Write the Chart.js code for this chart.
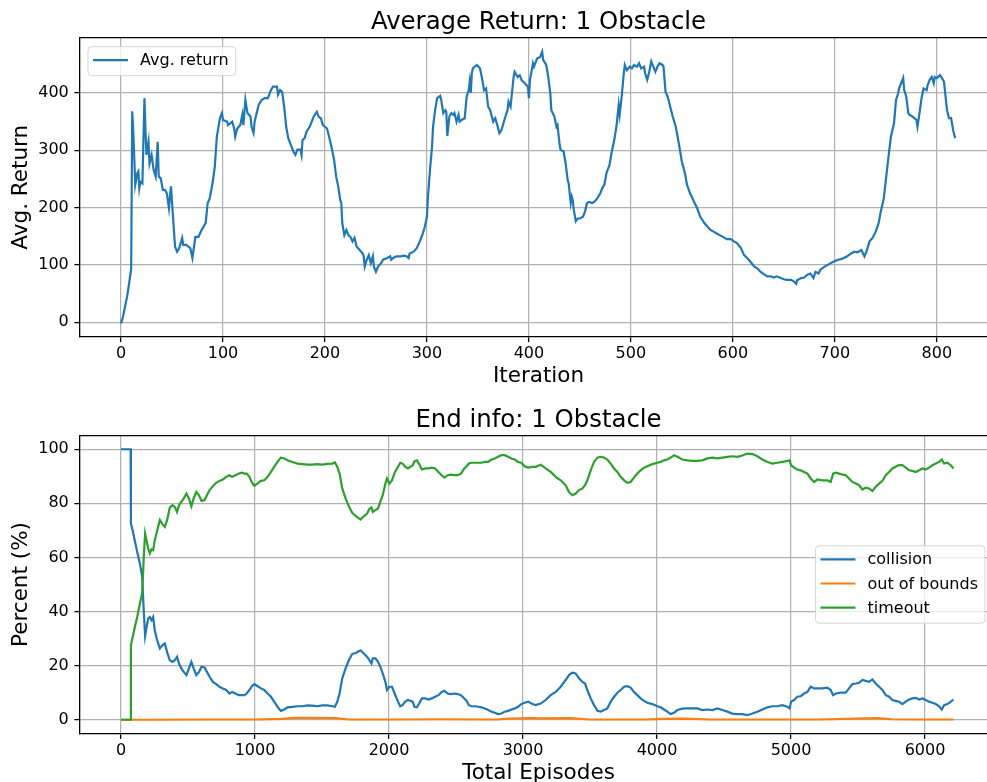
<!DOCTYPE html>
<html>
<head>
<meta charset="utf-8">
<script src="https://cdn.jsdelivr.net/npm/chart.js@4.4.1/dist/chart.umd.min.js"></script>
<style>
  html, body { margin: 0; padding: 0; background: #fff; overflow: hidden; }
  #wrap { position: relative; width: 987px; height: 782px; overflow: hidden; }
  #wrap canvas { position: absolute; left: 0; }
</style>
</head>
<body>
<div id="wrap">
  <canvas id="returnChart" width="997" height="392" style="top:0"></canvas>
  <canvas id="endChart" width="997" height="400" style="top:392px"></canvas>
</div>
<script>
// ---- top plot: average return per iteration ----
const iterTicks = [0, 100, 200, 300, 400, 500, 600, 700, 800];
const returnTicks = [0, 100, 200, 300, 400];

const iterations = [
  0, 2, 6, 8, 10, 11, 12, 14, 16, 17,
  18, 19, 21, 23, 24, 25, 27, 28, 30, 32,
  34, 36, 37, 39, 41, 43, 45, 47, 49, 51,
  53, 55, 57, 60, 61, 64, 68, 70, 73, 76,
  79, 83, 85, 87, 90, 92, 94, 97, 99, 100,
  104, 105, 109, 111, 112, 114, 117, 119, 120, 122,
  124, 127, 128, 130, 131, 135, 138, 141, 144, 147,
  149, 153, 154, 156, 158, 160, 162, 164, 166, 169,
  171, 173, 176, 177, 178, 180, 182, 185, 189, 192,
  194, 196, 198, 202, 204, 207, 209, 211, 213, 215,
  216, 217, 219, 221, 223, 225, 227, 229, 231, 234,
  237, 238, 239, 241, 243, 245, 247, 248, 250, 252,
  255, 257, 261, 264, 265, 267, 270, 274, 277, 280,
  282, 283, 287, 290, 293, 296, 298, 300, 301, 303,
  305, 306, 308, 310, 313, 314, 316, 318, 319, 320,
  322, 324, 326, 327, 329, 331, 332, 334, 337, 339,
  341, 342, 343, 344, 345, 349, 352, 354, 356, 358,
  360, 362, 365, 367, 369, 371, 373, 377, 379, 380,
  382, 385, 386, 389, 391, 393, 396, 399, 400, 401,
  404, 405, 408, 411, 413, 414, 417, 419, 421, 422,
  425, 427, 428, 430, 431, 434, 436, 438, 439, 440,
  441, 442, 443, 444, 446, 448, 450, 453, 455, 457,
  459, 462, 464, 467, 470, 472, 474, 476, 479, 481,
  484, 486, 488, 489, 491, 493, 494, 496, 499, 501,
  503, 506, 508, 510, 513, 514, 516, 518, 520, 522,
  524, 526, 528, 531, 532, 534, 536, 539, 541, 544,
  547, 550, 553, 555, 558, 562, 565, 568, 572, 575,
  578, 581, 585, 588, 591, 594, 598, 601, 604, 608,
  611, 614, 617, 621, 624, 627, 631, 634, 637, 640,
  643, 647, 650, 653, 657, 660, 662, 663, 667, 670,
  673, 676, 679, 681, 684, 686, 690, 693, 696, 699,
  703, 706, 709, 712, 716, 719, 722, 726, 729, 731,
  734, 737, 740, 743, 745, 748, 750, 753, 755, 758,
  760, 762, 763, 765, 767, 768, 770, 772, 773, 776,
  780, 781, 783, 785, 787, 790, 791, 793, 795, 797,
  798, 800, 803, 805, 807, 810, 812, 814, 816, 818
];
const avgReturn = [
  -2, 10, 45, 68, 94, 368, 335, 240, 260, 263,
  234, 245, 242, 391, 335, 292, 315, 277, 292, 266,
  254, 315, 254, 251, 231, 231, 225, 199, 237, 184,
  132, 123, 129, 147, 135, 135, 129, 112, 149, 149,
  161, 173, 208, 216, 245, 272, 324, 356, 365, 353,
  350, 344, 350, 338, 324, 338, 344, 362, 344, 388,
  365, 359, 341, 330, 350, 379, 388, 391, 391, 405,
  411, 411, 397, 405, 402, 376, 341, 321, 312, 298,
  292, 301, 301, 292, 318, 321, 333, 341, 359, 367,
  358, 356, 344, 338, 324, 301, 283, 254, 237, 213,
  208, 173, 152, 161, 152, 149, 141, 147, 132, 126,
  120, 115, 97, 109, 117, 103, 115, 97, 88, 97,
  103, 109, 112, 115, 109, 112, 115, 115, 116, 115,
  112, 120, 123, 129, 141, 155, 167, 184, 219, 266,
  306, 341, 370, 391, 395, 388, 365, 370, 367, 325,
  359, 365, 362, 365, 350, 362, 350, 353, 356, 394,
  405, 420, 400, 434, 443, 449, 443, 426, 405, 408,
  376, 370, 350, 356, 344, 330, 335, 359, 370, 385,
  376, 428, 437, 428, 431, 422, 417, 411, 391, 423,
  452, 446, 460, 463, 472, 458, 449, 428, 399, 370,
  359, 341, 344, 312, 301, 298, 277, 248, 242, 225,
  208, 219, 213, 196, 176, 181, 181, 184, 193, 208,
  210, 208, 210, 216, 225, 234, 240, 260, 274, 295,
  321, 344, 379, 362, 394, 434, 449, 440, 446, 443,
  449, 446, 452, 443, 446, 434, 423, 437, 455, 446,
  437, 446, 452, 449, 446, 402, 394, 373, 359, 341,
  312, 280, 260, 240, 225, 210, 199, 184, 173, 167,
  161, 158, 154, 151, 148, 145, 145, 141, 138, 129,
  117, 112, 106, 97, 94, 88, 83, 80, 80, 78,
  80, 77, 75, 74, 74, 71, 67, 73, 77, 78,
  83, 85, 77, 88, 85, 92, 97, 100, 103, 106,
  109, 110, 112, 115, 120, 123, 122, 126, 115, 123,
  141, 147, 158, 173, 193, 216, 248, 295, 324, 347,
  388, 399, 408, 417, 426, 405, 394, 365, 362, 359,
  353, 341, 365, 391, 408, 405, 414, 423, 428, 417,
  428, 426, 431, 426, 420, 370, 356, 356, 335, 321
];

// ---- bottom plot: end info per total episodes ----
const episodeTicks = [0, 1000, 2000, 3000, 4000, 5000, 6000];
const percentTicks = [0, 20, 40, 60, 80, 100];

const episodes = [
  0, 72, 74, 87, 104, 121, 141, 158, 171, 180,
  190, 203, 215, 228, 240, 252, 270, 290, 309, 327,
  344, 364, 384, 401, 418, 433, 450, 468, 488, 507,
  525, 542, 562, 582, 601, 624, 641, 661, 686, 710,
  735, 760, 785, 809, 829, 854, 879, 903, 921, 938,
  958, 978, 995, 1020, 1044, 1069, 1094, 1119, 1143, 1168,
  1193, 1218, 1242, 1280, 1317, 1354, 1391, 1428, 1465, 1502,
  1540, 1577, 1596, 1614, 1631, 1651, 1676, 1700, 1725, 1755,
  1787, 1812, 1836, 1854, 1869, 1879, 1898, 1918, 1935, 1953,
  1973, 1985, 2002, 2022, 2042, 2067, 2084, 2101, 2121, 2141,
  2158, 2176, 2190, 2208, 2225, 2245, 2270, 2294, 2319, 2344,
  2369, 2393, 2413, 2438, 2463, 2487, 2512, 2537, 2562, 2579,
  2596, 2616, 2641, 2666, 2690, 2715, 2740, 2765, 2789, 2814,
  2839, 2864, 2888, 2913, 2938, 2963, 2987, 3012, 3037, 3070,
  3094, 3132, 3169, 3206, 3244, 3281, 3318, 3343, 3368, 3393,
  3418, 3443, 3463, 3480, 3505, 3530, 3555, 3580, 3604, 3629,
  3654, 3679, 3704, 3729, 3754, 3779, 3803, 3828, 3853, 3878,
  3903, 3928, 3965, 4002, 4027, 4052, 4077, 4102, 4127, 4152,
  4189, 4226, 4264, 4301, 4338, 4376, 4413, 4450, 4488, 4525,
  4562, 4600, 4637, 4674, 4712, 4749, 4786, 4824, 4861, 4898,
  4935, 4973, 4990, 5000, 5023, 5047, 5072, 5097, 5122, 5147,
  5172, 5197, 5234, 5271, 5296, 5314, 5334, 5371, 5408, 5433,
  5458, 5483, 5508, 5533, 5557, 5582, 5607, 5632, 5657, 5682,
  5707, 5732, 5756, 5781, 5806, 5831, 5856, 5881, 5906, 5931,
  5956, 5981, 6005, 6030, 6055, 6080, 6105, 6125, 6142, 6167,
  6192, 6212
];
const collision = [
  100, 100, 72.5, 70, 66, 62, 57.8, 52.8, 39, 31,
  34, 37.4, 38, 36.8, 38, 33, 29.4, 26.4, 27.6, 28.2,
  25, 22, 21.4, 22, 23.3, 20.8, 19, 17.7, 16.5, 19,
  21.4, 19, 16.5, 17.7, 19.6, 19.3, 17.7, 15.9, 14, 13.2,
  12.2, 11.6, 11, 9.7, 10.3, 9.7, 9.1, 9.1, 9.1, 9.7,
  11, 12.5, 13.2, 12.4, 11.6, 11, 9.7, 8.5, 6.7, 4.8,
  3.3, 3.8, 4.6, 4.8, 5, 5, 5.3, 5.2, 5, 5.3,
  5.3, 5, 4.8, 6.7, 9.7, 15.3, 19, 22, 24.3, 24.8,
  25.7, 24.5, 23.3, 22, 20.8, 22.7, 22.7, 21.4, 19.6, 17.1,
  14, 11, 12.2, 12.2, 9.7, 6.7, 5, 5.4, 6.7, 7.3,
  7, 6.7, 4.8, 4.6, 6, 7.9, 7.9, 7.5, 7.9, 8.5,
  9.1, 10.3, 10.7, 9.7, 9.5, 9.7, 9.5, 9.1, 7.9, 7,
  5.4, 5, 5, 4.8, 4.6, 4.2, 3.6, 3, 2.6, 2.1,
  2.3, 3, 3.3, 3.8, 4.2, 4.8, 5.8, 6.3, 6.7, 5.8,
  5.4, 6, 7.3, 9.1, 10.3, 12.2, 14.7, 16.5, 17.4, 17.1,
  15.3, 14, 13.4, 11, 7.9, 5.4, 3.3, 3, 3.6, 4.2,
  6.7, 8.5, 10, 11, 12.2, 12.4, 11.9, 10.3, 9.1, 7.9,
  7, 6.3, 5.8, 5, 4.6, 3.8, 3, 2.1, 2.6, 3.6,
  4.1, 4.2, 4.2, 4.2, 3.6, 3.8, 3.6, 4.2, 3.6, 3,
  2.3, 2.1, 2.1, 1.7, 2.3, 3, 3.8, 4.6, 5, 5,
  5.4, 4.8, 4.2, 6.7, 7.3, 8.5, 8.7, 9.7, 10.3, 12.2,
  11.6, 11.6, 11.6, 11.9, 11, 9.1, 9.7, 10, 10, 11.6,
  13.2, 13.4, 13.7, 14.7, 14.4, 14, 14.9, 13.4, 12.2, 11,
  9.1, 8.5, 7.3, 7, 6.7, 5.8, 6.7, 7.5, 7.9, 8.1,
  7.5, 7.9, 7.3, 6.7, 6.3, 5.8, 5, 3.8, 5.4, 5.8,
  6.7, 7.5
];
const timeout = [
  0, 0, 27.6, 30.5, 34.4, 38, 43, 46.7, 61.5, 68.8,
  66.4, 63.3, 61.5, 63, 62.7, 66.4, 70, 73.8, 72.3, 71.3,
  73.8, 78.4, 79.3, 78.7, 76.8, 79.3, 80.5, 81.8, 83.6, 81.8,
  78.9, 81.8, 84.2, 83, 80.9, 81.2, 83, 84.9, 86.3, 87.6,
  88.3, 88.8, 89.8, 90.4, 89.8, 90.4, 91, 91.3, 91, 91,
  89.8, 87.6, 86.5, 87.4, 88.3, 88.5, 89.8, 91.6, 93.5, 95.3,
  96.9, 96.6, 95.9, 95.3, 94.7, 94.5, 94.3, 94.3, 94.5, 94.3,
  94.6, 94.7, 95.1, 93.5, 91, 85.5, 81.8, 78.9, 76.5, 75.2,
  74, 75.2, 76.2, 78, 78.5, 76.8, 77.5, 78.1, 80.5, 83,
  87.3, 89.2, 87.3, 88.5, 91.3, 93.5, 95, 94.7, 93.5, 92.9,
  93.5, 94, 95.5, 95.9, 94.5, 92.5, 92.9, 92.9, 93.2, 92.9,
  91.6, 90.4, 89.5, 90.4, 90.6, 90.4, 90.4, 91, 92.9, 93.7,
  94.7, 95, 95, 95, 95, 95.3, 95.3, 96.2, 96.6, 97.2,
  97.8, 97.8, 97.2, 96.6, 96.2, 95.3, 95, 93.7, 93.2, 93.5,
  93.5, 94.3, 92.9, 91.6, 89.8, 88.5, 86.7, 84.2, 83, 83.6,
  84.9, 85.5, 86.7, 88.5, 92.2, 95.3, 96.9, 97.2, 96.9, 96.2,
  94.7, 92.9, 91.6, 89.8, 88.5, 87.6, 87.9, 89.5, 91, 92.2,
  93.2, 93.7, 94.5, 95, 95.3, 95.9, 96.2, 96.9, 97.8, 97.2,
  96.2, 95.9, 95.7, 95.7, 95.9, 96.6, 96.9, 96.6, 96.9, 97.2,
  97.4, 97.2, 97.7, 98.4, 98.2, 97.4, 96.2, 95.3, 94.7, 95,
  95.3, 95.7, 95.9, 94.1, 93.2, 92.5, 92.2, 91.6, 91, 89.2,
  87.9, 88.8, 88.5, 88.5, 87.9, 91, 91.3, 90.8, 90.4, 89.2,
  87.9, 87.3, 86.7, 85.1, 85.8, 85.5, 84.6, 86.1, 87.3, 88.3,
  90.4, 91.6, 92.9, 93.5, 94.1, 94.1, 93.2, 92.2, 92, 91.6,
  92.2, 92.9, 92.5, 93.2, 94.1, 94.7, 95.3, 96.2, 94.7, 95,
  94.1, 92.9
];
const oobEpisodes = [0, 200, 600, 1000, 1200, 1300, 1450, 1600, 1700, 2000, 2400, 2800, 2900, 3050, 3150, 3350, 3500, 3900, 4050, 4200, 4400, 4800, 5200, 5550, 5650, 5750, 6000, 6212];
const outOfBounds = [0, 0, 0.1, 0.1, 0.3, 0.7, 0.7, 0.6, 0.1, 0.1, 0.2, 0.1, 0.4, 0.6, 0.5, 0.6, 0.1, 0.1, 0.3, 0.4, 0.1, 0.1, 0.1, 0.5, 0.6, 0.2, 0.1, 0.1];

Chart.defaults.font.family = "'DejaVu Sans', sans-serif";
Chart.defaults.color = '#000';

function lineSet(label, xs, ys, color, order) {
  return {
    label,
    data: xs.map((x, i) => ({ x, y: ys[i] })),
    xAxisID: 'x',
    yAxisID: 'y',
    borderColor: color,
    borderWidth: 2.2,
    pointRadius: 0,
    tension: 0,
    fill: false,
    order
  };
}

// matplotlib-style legend box drawn inside the plot area
const boxLegend = {
  id: 'boxLegend',
  afterDatasetsDraw(chart, args, opts) {
    const { ctx, chartArea: ca } = chart;
    const sets = chart.data.datasets;
    ctx.save();
    ctx.font = "16px 'DejaVu Sans'";
    const textW = Math.max(...sets.map(d => ctx.measureText(d.label).width));
    const w = 52 + textW + 7;
    const h = 29 + (sets.length - 1) * 24.2;
    let x, y;
    if (opts.loc === 'upper left') {
      x = ca.left + 8; y = ca.top + 8.7;
    } else {
      x = ca.right - 12 - w; y = (ca.top + ca.bottom) / 2 - h / 2;
    }
    ctx.beginPath();
    ctx.roundRect(x, y, w, h, 3.5);
    ctx.fillStyle = 'rgba(255,255,255,0.8)';
    ctx.fill();
    ctx.strokeStyle = 'rgba(204,204,204,0.8)';
    ctx.lineWidth = 1;
    ctx.stroke();
    sets.forEach((d, i) => {
      const ly = y + 13.5 + i * 24.2;
      ctx.beginPath();
      ctx.moveTo(x + 5, ly);
      ctx.lineTo(x + 40, ly);
      ctx.strokeStyle = d.borderColor;
      ctx.lineWidth = 2.2;
      ctx.stroke();
      ctx.fillStyle = '#000';
      ctx.textBaseline = 'middle';
      ctx.fillText(d.label, x + 52, ly + 1);
    });
    ctx.restore();
  }
};

function makeScales(o) {
  const grid = { color: '#b0b0b0', lineWidth: 1.2, tickColor: '#000', tickLength: 5.6, tickWidth: 1.3 };
  const border = { color: '#000', width: 1.3 };
  return {
    x: {
      type: 'linear', position: 'bottom', min: o.xMin, max: o.xMax, grid, border,
      ticks: { font: { size: 16 }, padding: 2.1, maxRotation: 0, autoSkip: false, callback: v => String(v) },
      afterBuildTicks: s => { s.ticks = o.xTicks.map(v => ({ value: v })); },
      title: { display: true, text: o.xLabel, font: { size: 21.5 }, padding: { top: 0, bottom: o.xLabelPad } },
      afterFit: s => { s.height = o.bottomH; }
    },
    y: {
      type: 'linear', position: 'left', min: o.yMin, max: o.yMax, grid, border,
      ticks: { font: { size: 16 }, padding: 5.6, autoSkip: false, callback: v => String(v) },
      afterBuildTicks: s => { s.ticks = o.yTicks.map(v => ({ value: v })); },
      title: { display: true, text: o.yLabel, font: { size: 21.5 }, padding: { top: 8.7, bottom: 0 } },
      afterFit: s => { s.width = 80; }
    },
    // title-only axis on top, its border is the top spine
    top: {
      type: 'linear', position: 'top', min: 0, max: 1,
      ticks: { display: false }, grid: { display: false }, border,
      title: { display: true, text: o.title, font: { size: 24.4 }, padding: { top: o.titlePad, bottom: 0 } },
      afterFit: s => { s.height = o.topH; }
    }
  };
}

const baseOptions = {
  responsive: false,
  animation: false,
  events: [],
  layout: { padding: 0 },
  plugins: { legend: { display: false }, tooltip: { enabled: false } }
};

new Chart(document.getElementById('returnChart'), {
  type: 'line',
  data: { datasets: [lineSet('Avg. return', iterations, avgReturn, '#1f77b4', 0)] },
  options: {
    ...baseOptions,
    plugins: { ...baseOptions.plugins, boxLegend: { loc: 'upper left' } },
    scales: makeScales({
      title: 'Average Return: 1 Obstacle', titlePad: 8.5, topH: 38,
      xLabel: 'Iteration', xLabelPad: 2.5, bottomH: 55.5,
      yLabel: 'Avg. Return',
      xMin: -40.2, xMax: 859, xTicks: iterTicks,
      yMin: -25, yMax: 496, yTicks: returnTicks
    })
  },
  plugins: [boxLegend]
});

new Chart(document.getElementById('endChart'), {
  type: 'line',
  data: {
    datasets: [
      lineSet('collision', episodes, collision, '#1f77b4', 2),
      lineSet('out of bounds', oobEpisodes, outOfBounds, '#ff7f0e', 1),
      lineSet('timeout', episodes, timeout, '#2ca02c', 0)
    ]
  },
  options: {
    ...baseOptions,
    plugins: { ...baseOptions.plugins, boxLegend: { loc: 'center right' } },
    scales: makeScales({
      title: 'End info: 1 Obstacle', titlePad: 14.2, topH: 43.7,
      xLabel: 'Total Episodes', xLabelPad: 5.7, bottomH: 58.7,
      yLabel: 'Percent (%)',
      xMin: -306, xMax: 6537, xTicks: episodeTicks,
      yMin: -5, yMax: 105, yTicks: percentTicks
    })
  },
  plugins: [boxLegend]
});
</script>
</body>
</html>
